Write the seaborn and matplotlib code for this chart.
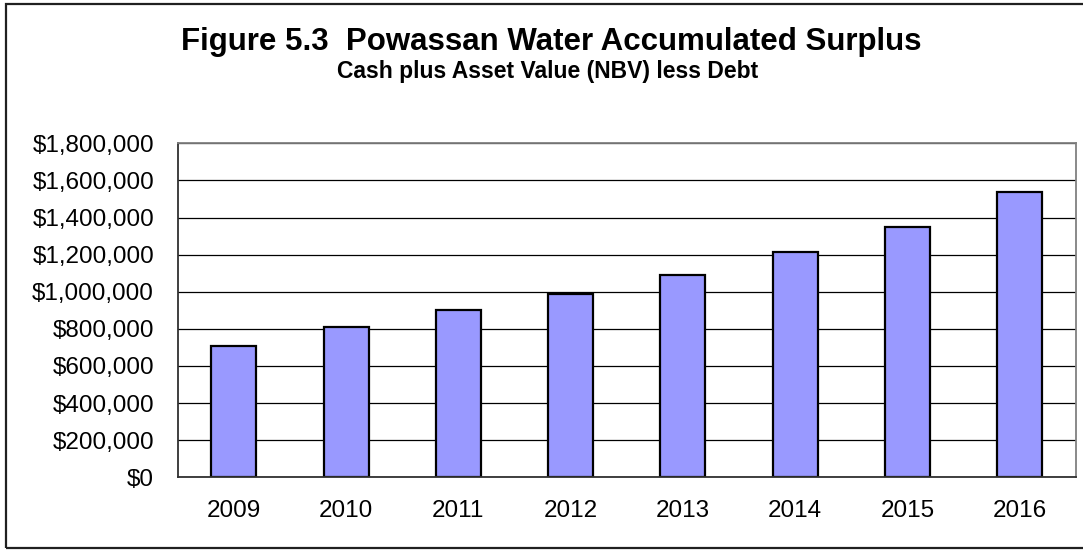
import matplotlib
matplotlib.use("Agg")
import matplotlib.pyplot as plt
import seaborn as sns
import pandas as pd
from matplotlib.ticker import FuncFormatter, FixedLocator
from matplotlib.patches import Rectangle

# Data
years = ["2009", "2010", "2011", "2012", "2013", "2014", "2015", "2016"]
surplus = [707000, 811000, 900000, 986000, 1090000, 1214000, 1349000, 1539000]

df = pd.DataFrame({"Year": years, "Surplus": surplus})

sns.set_style("white")
plt.rcParams["font.family"] = ["Liberation Sans", "DejaVu Sans"]
plt.rcParams["text.color"] = "black"
plt.rcParams["xtick.color"] = "black"
plt.rcParams["ytick.color"] = "black"

fig = plt.figure(figsize=(10.83, 5.5), dpi=100)
ax = fig.add_axes([0.164, 0.1322, 0.8295, 0.6073])

sns.barplot(data=df, x="Year", y="Surplus", color="#9999FF", saturation=1,
            edgecolor="black", linewidth=1.6, width=0.4, ax=ax)

ax.set_ylim(0, 1800000)
ax.set_xlim(-0.5, len(years) - 0.5)
ax.set_yticks(range(0, 1800001, 200000))
ax.yaxis.set_major_formatter(FuncFormatter(lambda v, p: f"${v:,.0f}"))
ax.grid(axis="y", color="black", linewidth=0.9)
ax.set_axisbelow(True)

# category boundary ticks like a spreadsheet chart
ax.xaxis.set_minor_locator(FixedLocator([i - 0.5 for i in range(len(years) + 1)]))
ax.tick_params(axis="x", which="major", length=0, pad=16, labelsize=17.5,
               labelcolor="black")
ax.tick_params(axis="x", which="minor", length=5, width=1, color="#404040", direction="out")
ax.tick_params(axis="y", length=6, width=1, color="#404040", direction="out",
               pad=11, labelsize=17.5, labelcolor="black")

ax.set_xlabel("")
ax.set_ylabel("")

for side in ["left", "bottom"]:
    ax.spines[side].set_color("#303030")
    ax.spines[side].set_linewidth(1.3)
for side in ["top", "right"]:
    ax.spines[side].set_visible(True)
    ax.spines[side].set_color("#808080")
    ax.spines[side].set_linewidth(1.3)

fig.text(0.509, 0.909, "Figure 5.3  Powassan Water Accumulated Surplus",
         ha="center", va="baseline", fontsize=22.5, fontweight="bold", color="black")
fig.text(0.506, 0.859, "Cash plus Asset Value (NBV) less Debt",
         ha="center", va="baseline", fontsize=16.5, fontweight="bold", color="black")

# outer chart frame (right side runs off the image)
fig.patches.append(Rectangle((6 / 1083, 2 / 550), 1.1, 544 / 550,
                             transform=fig.transFigure, fill=False,
                             edgecolor="#202020", linewidth=1.6))

fig.savefig("out.png", dpi=100)
